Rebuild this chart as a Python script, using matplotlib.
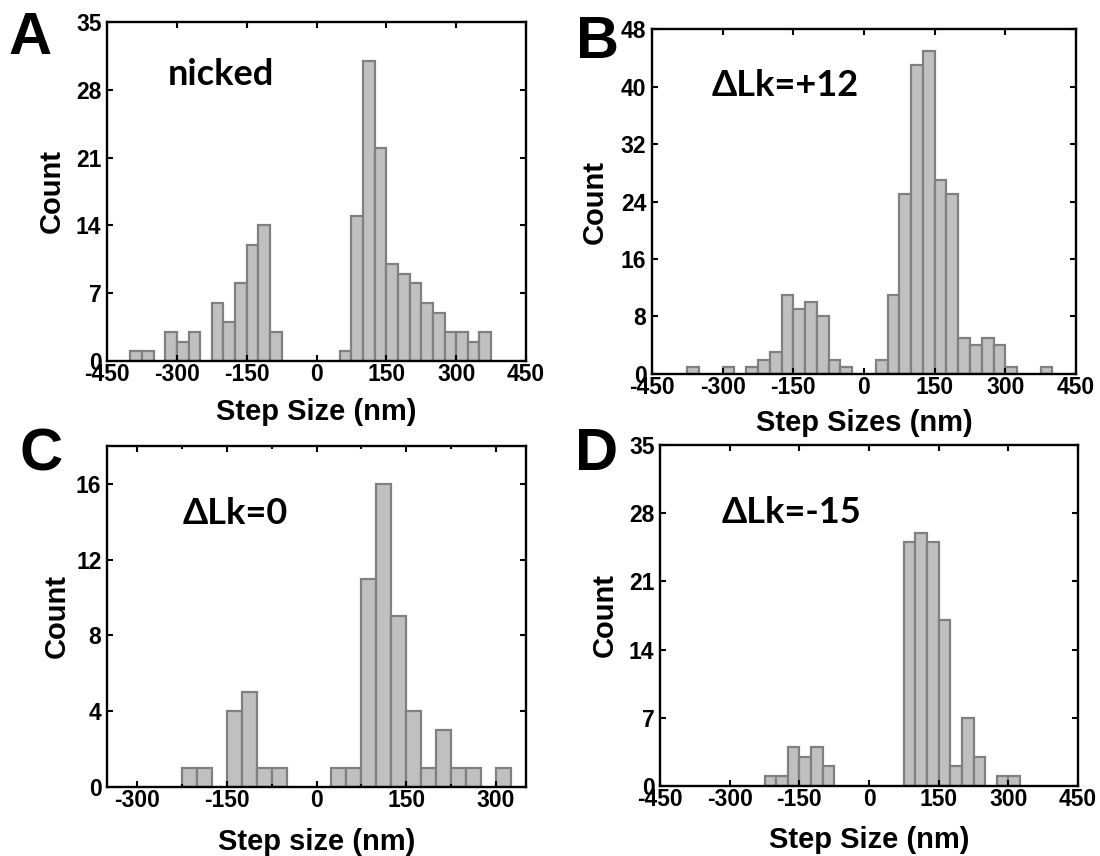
import numpy as np
import matplotlib.pyplot as plt

plt.rcParams["axes.unicode_minus"] = False

# bin width 25 nm, counts listed from the first left bin edge
BIN = 25

a_start = -400
a_counts = [1, 1, 0, 3, 2, 3, 0, 6, 4, 8, 12, 14, 3, 0, 0, 0,
            0, 0, 1, 15, 31, 22, 10, 9, 8, 6, 5, 3, 3, 2, 3]

b_start = -375
b_counts = [1, 0, 0, 1, 0, 1, 2, 3, 11, 9, 10, 8, 2, 1, 0, 0,
            2, 11, 25, 43, 45, 27, 25, 5, 4, 5, 4, 1, 0, 0, 1]

c_start = -225
c_counts = [1, 1, 0, 4, 5, 1, 1, 0, 0, 0, 1, 1, 11, 16, 9, 4, 1, 3, 1, 1, 0, 1]

d_start = -225
d_counts = [1, 1, 4, 3, 4, 2, 0, 0, 0, 0, 0, 0, 25, 26, 25, 17, 2, 7, 3, 0, 1, 1]

panels = [
    dict(letter="A", tag="nicked", start=a_start, counts=a_counts,
         rect=[0.0973, 0.5783, 0.3809, 0.3960], xlim=(-450, 450), xticks=np.arange(-450, 451, 150),
         minor=None, ylim=35, yticks=np.arange(0, 36, 7), xlabel="Step Size (nm)",
         tagpos=(0.146, 0.844), ylab_x=-0.131, xlab_y=-0.150, letterpos=(30, 38)),
    dict(letter="B", tag="ΔLk=+12", start=b_start, counts=b_counts,
         rect=[0.5927, 0.5631, 0.3855, 0.4030], xlim=(-450, 450), xticks=np.arange(-450, 451, 150),
         minor=None, ylim=48, yticks=np.arange(0, 49, 8), xlabel="Step Sizes (nm)",
         tagpos=(0.1415, 0.835), ylab_x=-0.134, xlab_y=-0.142, letterpos=(597, 42)),
    dict(letter="C", tag="ΔLk=0", start=c_start, counts=c_counts,
         rect=[0.0973, 0.0806, 0.3809, 0.3984], xlim=(-350, 350), xticks=np.arange(-300, 301, 150),
         minor=np.arange(-300, 301, 75), ylim=18, yticks=np.arange(0, 17, 4), xlabel="Step size (nm)",
         tagpos=(0.181, 0.803), ylab_x=-0.119, xlab_y=-0.161, letterpos=(41, 455)),
    dict(letter="D", tag="ΔLk=-15", start=d_start, counts=d_counts,
         rect=[0.6000, 0.0818, 0.3800, 0.3984], xlim=(-450, 450), xticks=np.arange(-450, 451, 150),
         minor=None, ylim=35, yticks=np.arange(0, 36, 7), xlabel="Step Size (nm)",
         tagpos=(0.148, 0.803), ylab_x=-0.132, xlab_y=-0.158, letterpos=(597, 454)),
]

W, H = 1100, 856
fig = plt.figure(figsize=(W / 100, H / 100), dpi=100)
label_font = dict(family="Liberation Sans", weight="bold")

for p in panels:
    ax = fig.add_axes(p["rect"])
    counts = np.array(p["counts"])
    lefts = p["start"] + BIN * np.arange(len(counts))
    keep = counts > 0
    ax.bar(lefts[keep], counts[keep], width=BIN, align="edge",
           color="#c0c0c0", edgecolor="#808080", linewidth=1.6)

    ax.set_xlim(*p["xlim"])
    ax.set_ylim(0, p["ylim"])
    ax.set_xticks(p["xticks"])
    ax.set_yticks(p["yticks"])
    if p["minor"] is not None:
        ax.set_xticks(p["minor"], minor=True)
    ax.tick_params(which="both", direction="in", top=True, right=True, width=1.5)
    ax.tick_params(which="major", length=4.5)
    ax.tick_params(which="minor", length=2.5)
    ax.tick_params(axis="x", pad=1.5)
    ax.tick_params(axis="y", pad=4)
    for lab in ax.get_xticklabels() + ax.get_yticklabels():
        lab.set_fontfamily("Liberation Sans")
        lab.set_fontweight("bold")
        lab.set_fontsize(16.5)
    for s in ax.spines.values():
        s.set_linewidth(1.7)

    ax.set_ylabel("Count", fontsize=21, **label_font)
    ax.yaxis.set_label_coords(p["ylab_x"], 0.5)
    ax.yaxis.label.set_va("center")
    ax.set_xlabel(p["xlabel"], fontsize=21, **label_font)
    ax.xaxis.set_label_coords(0.5, p["xlab_y"])
    ax.xaxis.label.set_va("center")

    ax.text(p["tagpos"][0], p["tagpos"][1], p["tag"], transform=ax.transAxes,
            ha="left", va="center", fontsize=26, family="Lato", weight="bold")

    lx, ly = p["letterpos"]
    fig.text(lx / W, 1 - ly / H, p["letter"], ha="center", va="center",
             fontsize=43, **label_font)

fig.savefig("out.png", dpi=100)
